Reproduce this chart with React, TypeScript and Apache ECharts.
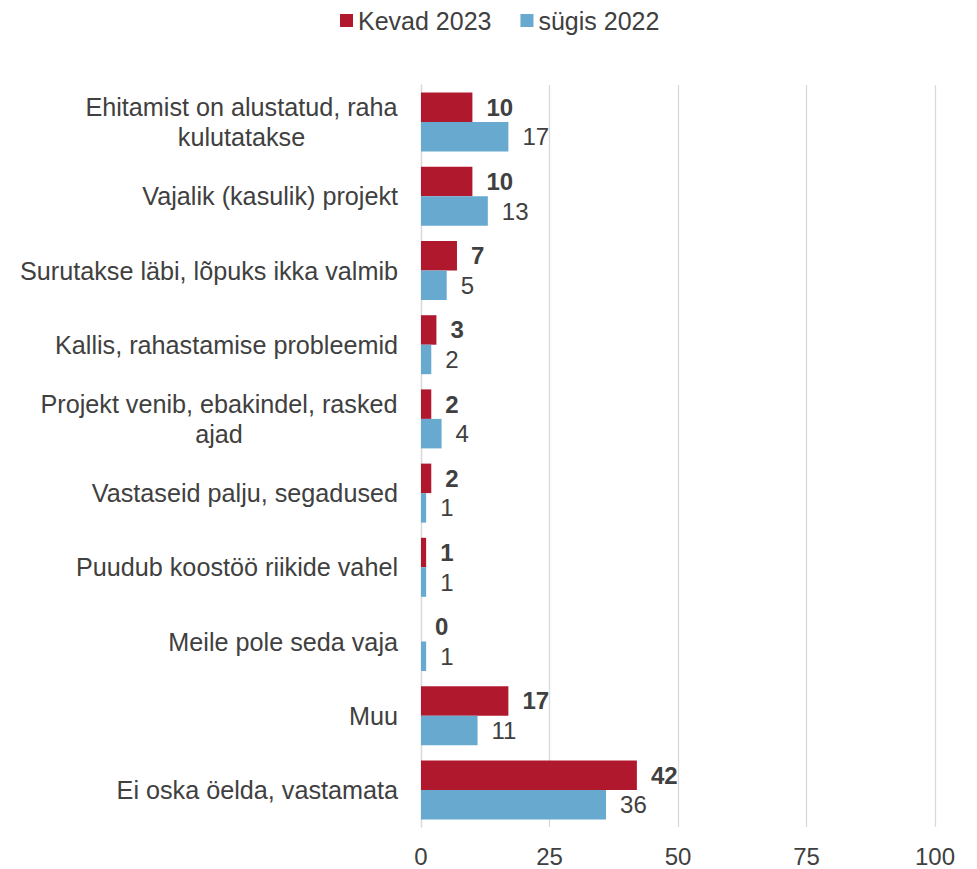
import React, { useEffect, useRef } from "react";
import * as echarts from "echarts";

const categories = [
  "Ehitamist on alustatud, raha\nkulutatakse",
  "Vajalik (kasulik) projekt",
  "Surutakse läbi, lõpuks ikka valmib",
  "Kallis, rahastamise probleemid",
  "Projekt venib, ebakindel, rasked\najad",
  "Vastaseid palju, segadused",
  "Puudub koostöö riikide vahel",
  "Meile pole seda vaja",
  "Muu",
  "Ei oska öelda, vastamata",
];
const kevad2023 = [10, 10, 7, 3, 2, 2, 1, 0, 17, 42];
const sygis2022 = [17, 13, 5, 2, 4, 1, 1, 1, 11, 36];
const xTicks = [0, 25, 50, 75, 100];

const FONT = "'Liberation Sans', Arial, sans-serif";
const TEXT = "#404040";
const LABEL_SIZE = 25.2;

function measure(text: string): number {
  const c = document.createElement("canvas");
  const ctx = c.getContext("2d");
  if (!ctx) return text.length * 12;
  ctx.font = `${LABEL_SIZE}px 'Liberation Sans', Arial, sans-serif`;
  return ctx.measureText(text).width;
}

export default function App() {
  const ref = useRef<HTMLDivElement>(null);
  useEffect(() => {
    if (!ref.current) return;
    const chart = echarts.init(ref.current, undefined, { renderer: "svg" });
    const rich: Record<string, any> = {};
    const keyFor: Record<string, string> = {};
    categories.forEach((c, i) => {
      if (c.includes("\n")) {
        const w = Math.max(...c.split("\n").map(measure));
        rich["c" + i] = {
          width: Math.ceil(w),
          align: "center",
          fontSize: LABEL_SIZE,
          fontFamily: FONT,
          color: TEXT,
          lineHeight: 30,
        };
        keyFor[c] = "c" + i;
      }
    });
    chart.setOption({
      animation: false,
      textStyle: { fontFamily: FONT, color: TEXT },
      legend: {
        top: 3,
        left: 335,
        itemWidth: 13,
        itemHeight: 13,
        itemGap: 29,
        icon: "rect",
        textStyle: { fontSize: 25, color: TEXT, fontFamily: FONT },
        data: ["Kevad 2023", "sügis 2022"],
      },
      grid: { left: 421, right: 42, top: 85, bottom: 42 },
      xAxis: {
        type: "value",
        min: xTicks[0],
        max: xTicks[xTicks.length - 1],
        interval: 25,
        axisLine: { show: false },
        axisTick: { show: false },
        splitLine: { show: true, lineStyle: { color: "#D9D9D9", width: 1.3 } },
        axisLabel: { fontSize: 24, color: TEXT, fontFamily: FONT, margin: 17 },
      },
      yAxis: {
        type: "category",
        inverse: true,
        data: categories,
        axisLine: { show: true, lineStyle: { color: "#D9D9D9", width: 1.3 } },
        axisTick: { show: false },
        axisLabel: {
          fontSize: LABEL_SIZE,
          color: TEXT,
          fontFamily: FONT,
          margin: 23,
          lineHeight: 30,
          rich,
          formatter: (v: string) => {
            const k = keyFor[v];
            if (!k) return v;
            return v
              .split("\n")
              .map((l) => `{${k}|${l}}`)
              .join("\n");
          },
        },
      },
      series: [
        {
          name: "Kevad 2023",
          type: "bar",
          data: kevad2023,
          barWidth: 29.5,
          barGap: "0%",
          itemStyle: { color: "#B0182E" },
          label: {
            show: true,
            position: "right",
            distance: 14,
            fontSize: 24,
            fontWeight: "bold",
            color: TEXT,
            fontFamily: FONT,
          },
        },
        {
          name: "sügis 2022",
          type: "bar",
          data: sygis2022,
          barWidth: 29.5,
          barGap: "0%",
          itemStyle: { color: "#67A9CF" },
          label: {
            show: true,
            position: "right",
            distance: 14,
            fontSize: 24,
            color: TEXT,
            fontFamily: FONT,
          },
        },
      ],
    });
    return () => chart.dispose();
  }, []);
  return <div ref={ref} style={{ width: 977, height: 869, position: "absolute", left: 0, top: 0 }} />;
}
